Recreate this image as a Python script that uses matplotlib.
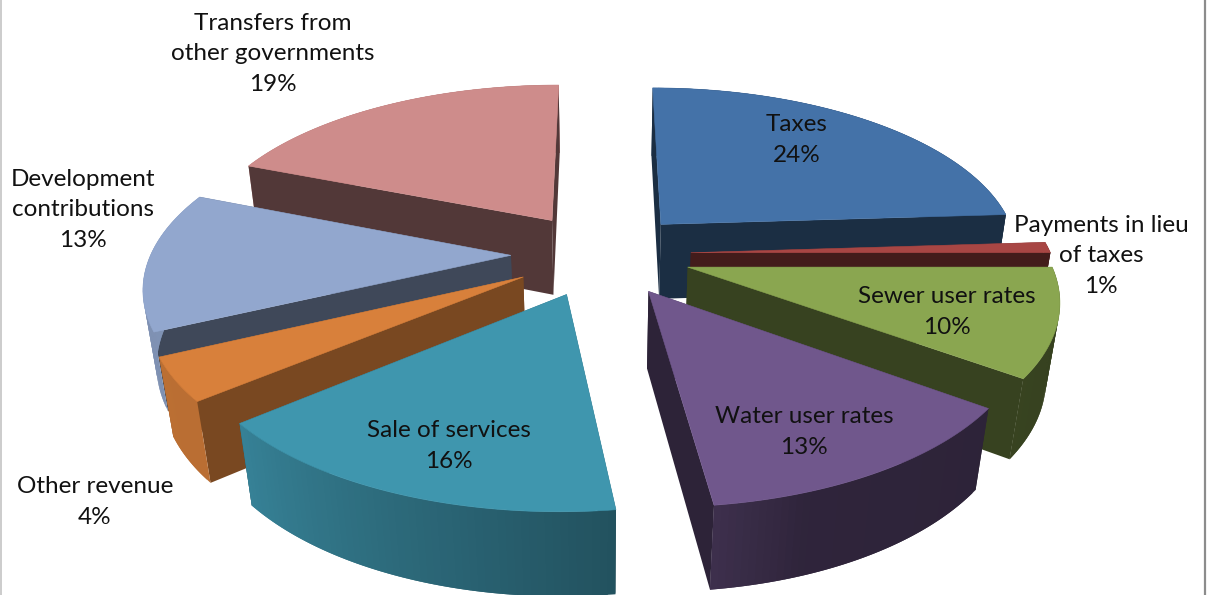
import numpy as np
import matplotlib
matplotlib.use("Agg")
import matplotlib.pyplot as plt
from matplotlib.patches import Polygon

# revenue shares, clockwise from 12 o'clock
categories = ["Taxes", "Payments in lieu\nof taxes", "Sewer user rates", "Water user rates",
              "Sale of services", "Other revenue", "Development\ncontributions",
              "Transfers from\nother governments"]
shares = [24, 1, 10, 13, 16, 4, 13, 19]

top_colors = ["#4472A8", "#A84644", "#8AA650", "#70578C", "#3F96AE", "#D8803B", "#92A7CE", "#CE8C8B"]
cut_shade = [0.40, 0.40, 0.40, 0.40, 0.40, 0.56, 0.43, 0.40]

# label centres in figure pixels
label_pos = [(797, 140), (1101, 256), (947, 312), (804, 432),
             (449, 446), (95, 502), (83, 210), (273, 54)]

# camera and pie geometry
CX, CY = 601, 254
RADIUS = 360
SQUASH = 0.465    # foreshortening of the pie plane
PERSP = 0.162     # size falloff with depth
DROP = 0.03       # size falloff from top face to bottom face
HEIGHT = 78
EXPLODE = 0.25


def project(x, y, z):
    """Pie coordinates to pixels; z=1 is the top face, z=0 the bottom."""
    x, y, z = np.asarray(x, float), np.asarray(y, float), np.asarray(z, float)
    w = 1 / (1 + PERSP * y + DROP * (1 - z))
    return np.column_stack([CX + RADIUS * x * w,
                            CY - RADIUS * SQUASH * y * w + HEIGHT * (1 - z) * w])


def shade(color, f):
    return tuple(c * f for c in matplotlib.colors.to_rgb(color))


def rim_shade(deg):
    # rim is lit from the left, dark towards the right
    return np.interp(deg, [0, 90, 120, 160, 172, 230, 290, 360],
                     [0.5, 0.38, 0.40, 0.42, 0.54, 0.86, 0.88, 0.75])


def draw_slice(ax, start, stop, color, cut):
    mid = np.radians((start + stop) / 2)
    ox, oy = EXPLODE * np.sin(mid), EXPLODE * np.cos(mid)
    deg = np.linspace(start, stop, max(int(stop - start), 2) + 1)
    xs = ox + np.sin(np.radians(deg))
    ys = oy + np.cos(np.radians(deg))

    # outer rim as thin quads, each lapping over the next so no seams show
    def rim(facing_front):
        for i in range(len(deg) - 1):
            centre = (deg[i] + deg[i + 1]) / 2
            if (np.cos(np.radians(centre)) < 0) != facing_front:
                continue
            j = min(i + 2, len(deg) - 1)
            quad = project([xs[i], xs[j], xs[j], xs[i]], [ys[i], ys[j], ys[j], ys[i]], [1, 1, 0, 0])
            ax.add_patch(Polygon(quad, closed=True, linewidth=0,
                                 facecolor=shade(color, rim_shade(centre))))

    rim(False)

    # the two cut faces, far one first
    for k in sorted((0, -1), key=lambda k: -ys[k]):
        pts = project([ox, xs[k], xs[k], ox], [oy, ys[k], ys[k], oy], [1, 1, 0, 0])
        ax.add_patch(Polygon(pts, closed=True, facecolor=shade(color, cut), linewidth=0))

    rim(True)

    top = project(np.r_[ox, xs], np.r_[oy, ys], np.ones(len(xs) + 1))
    ax.add_patch(Polygon(top, closed=True, facecolor=color, edgecolor=color, linewidth=0.4))


fig = plt.figure(figsize=(12.08, 5.95), dpi=100)
ax = fig.add_axes([0, 0, 1, 1])
ax.set_xlim(0, 1208)
ax.set_ylim(595, 0)
ax.axis("off")

# chart area border
ax.axvline(1, color="#c4c4c4", linewidth=1.2)
ax.axvline(1204.5, color="#8c8c8c", linewidth=1.6)

edges = np.cumsum([0] + shares) * 3.6
mids = np.radians((edges[:-1] + edges[1:]) / 2)

# paint slices from the back of the pie to the front
for i in np.argsort(-np.cos(mids)):
    draw_slice(ax, edges[i], edges[i + 1], top_colors[i], cut_shade[i])

for name, val, (lx, ly) in zip(categories, shares, label_pos):
    ax.text(lx, ly, f"{name}\n{val}%", ha="center", va="center", fontsize=17.5,
            family="Lato", color="#111111", linespacing=1.55)

fig.savefig("out.png", dpi=100)
